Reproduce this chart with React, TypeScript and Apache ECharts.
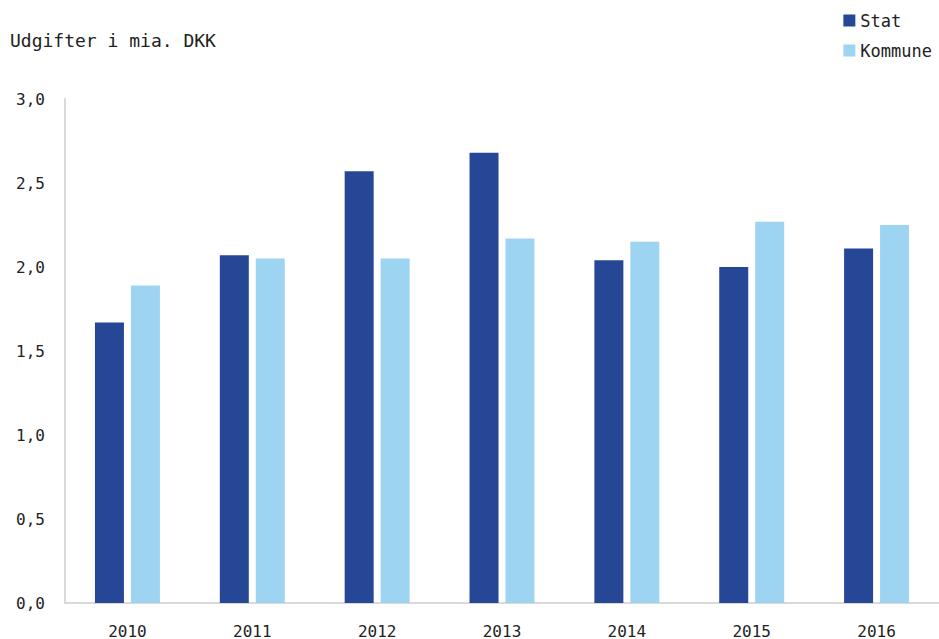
import React, { useEffect, useRef } from "react";
import * as echarts from "echarts";

const categories = ["2010", "2011", "2012", "2013", "2014", "2015", "2016"];
const statValues = [1.67, 2.07, 2.57, 2.68, 2.04, 2.0, 2.11];
const kommuneValues = [1.89, 2.05, 2.05, 2.17, 2.15, 2.27, 2.25];
const yTicks = { min: 0, max: 3, interval: 0.5 };
const title = "Udgifter i mia. DKK";
const seriesNames = ["Stat", "Kommune"];

const FONT = "'DejaVu Sans Mono', monospace";

export default function App() {
  const ref = useRef<HTMLDivElement>(null);
  useEffect(() => {
    if (!ref.current) return;
    const chart = echarts.init(ref.current, undefined, { renderer: "svg" });
    chart.setOption({
      animation: false,
      backgroundColor: "#ffffff",
      title: {
        text: title,
        left: 5,
        top: 26,
        textStyle: { fontFamily: FONT, fontSize: 18, fontWeight: "normal", color: "#222" },
      },
      legend: {
        orient: "vertical",
        right: 2,
        top: 7,
        icon: "rect",
        itemWidth: 12,
        itemHeight: 12,
        itemGap: 13,
        itemStyle: { borderWidth: 0 },
        textStyle: { fontFamily: FONT, fontSize: 17, color: "#222" },
        data: seriesNames,
      },
      grid: { left: 65, right: 0, top: 99, bottom: 36 },
      xAxis: {
        type: "category",
        data: categories,
        axisLine: { lineStyle: { color: "#d9d9d9", width: 2 } },
        axisTick: { show: false },
        axisLabel: { fontFamily: FONT, fontSize: 16, color: "#222", margin: 20 },
      },
      yAxis: {
        type: "value",
        min: yTicks.min,
        max: yTicks.max,
        interval: yTicks.interval,
        axisLine: { show: true, lineStyle: { color: "#d9d9d9", width: 2 } },
        axisTick: { show: false },
        splitLine: { show: false },
        axisLabel: {
          fontFamily: FONT,
          fontSize: 16,
          color: "#222",
          margin: 20,
          formatter: (v: number) => v.toFixed(1).replace(".", ","),
        },
      },
      series: [
        {
          name: seriesNames[0],
          type: "bar",
          data: statValues,
          barWidth: 29,
          barGap: "24%",
          itemStyle: { color: "#264796" },
        },
        {
          name: seriesNames[1],
          type: "bar",
          data: kommuneValues,
          barWidth: 29,
          itemStyle: { color: "#9dd4f2" },
        },
      ],
    });
    return () => chart.dispose();
  }, []);
  return (
    <div
      ref={ref}
      style={{ position: "fixed", left: 0, top: 0, width: 939, height: 639 }}
    />
  );
}
